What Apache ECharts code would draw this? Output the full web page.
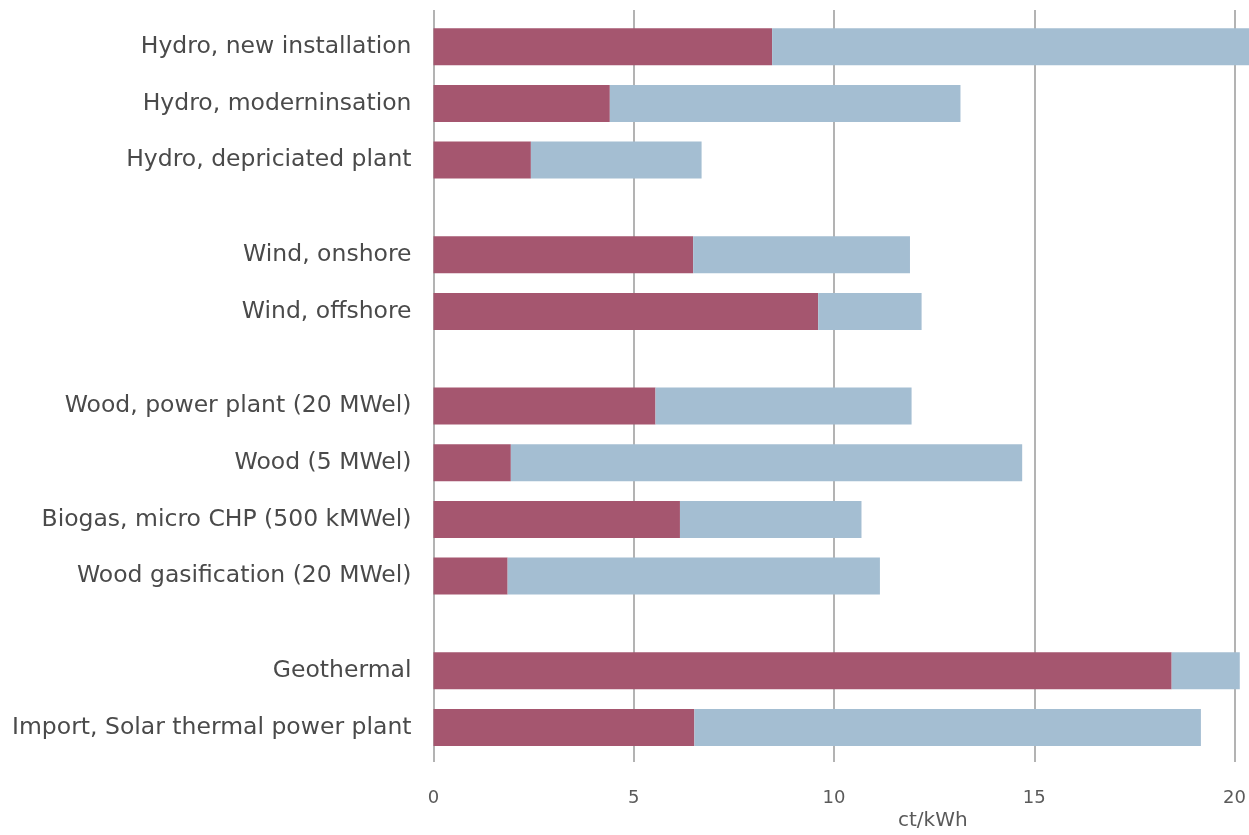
<!DOCTYPE html>
<html>
<head>
<meta charset="utf-8">
<script src="https://cdn.jsdelivr.net/npm/echarts@6/dist/echarts.min.js"></script>
<style>
  html, body { margin: 0; padding: 0; background: #ffffff; }
  #chart { width: 1249px; height: 835px; }
</style>
</head>
<body>
<div id="chart"></div>
<script>
// Power generation cost ranges, ct/kWh
const categories = [
  'Hydro, new installation',
  'Hydro, moderninsation',
  'Hydro, depriciated plant',
  'Wind, onshore',
  'Wind, offshore',
  'Wood, power plant (20 MWel)',
  'Wood (5 MWel)',
  'Biogas, micro CHP (500 kMWel)',
  'Wood gasification (20 MWel)',
  'Geothermal',
  'Import, Solar thermal power plant'
];
// rows per technology block (hydro, wind, biomass, other)
const groupSizes = [3, 2, 4, 2];
// lower end of the cost range
const lowerCost = [8.45, 4.40, 2.43, 6.48, 9.60, 5.54, 1.93, 6.15, 1.85, 18.42, 6.51];
// width of the range above the lower end
const rangeSpan = [12.55, 8.75, 4.26, 5.41, 2.58, 6.39, 12.76, 4.53, 9.29, 1.70, 12.64];
// visible value range; the plot runs to the right edge of the page
const axisMax = 20.35;
const tickStep = 5;
const unitLabel = 'ct/kWh';

const RED = '#a5566f';
const BLUE = '#a4bed2';
const FONT = 'DejaVu Sans';

// layout
const plotLeft = 433.5;
const firstTop = 18.35;
const rowPitch = 56.7;
const blockGap = 37.9;

const grids = [{ left: plotLeft, right: 0, top: 10, height: 752 }];
const xAxes = [{
  gridIndex: 0, type: 'value', min: 0, max: axisMax, interval: tickStep,
  axisLine: { show: false }, axisTick: { show: false },
  axisLabel: { color: '#5a5a5a', fontFamily: FONT, fontSize: 18, margin: 27, showMaxLabel: false },
  splitLine: { show: true, showMaxLine: false, lineStyle: { color: '#9a9a9a', width: 1.5 } }
}];
const yAxes = [{ gridIndex: 0, type: 'category', data: [''], show: false }];
const series = [];

let blockTop = firstTop;
let start = 0;
groupSizes.forEach((n, gi) => {
  const idx = gi + 1;
  grids.push({ left: plotLeft, right: 0, top: blockTop, height: n * rowPitch });
  xAxes.push({ gridIndex: idx, type: 'value', min: 0, max: axisMax, show: false, splitLine: { show: false } });
  yAxes.push({
    gridIndex: idx, type: 'category', inverse: true,
    data: categories.slice(start, start + n),
    axisLine: { show: false }, axisTick: { show: false },
    axisLabel: { color: '#4a4a4a', fontFamily: FONT, fontSize: 23.5, margin: 22 }
  });
  series.push({
    type: 'bar', xAxisIndex: idx, yAxisIndex: idx, stack: 'g' + idx,
    data: lowerCost.slice(start, start + n), barWidth: 37,
    itemStyle: { color: RED }, silent: true
  });
  series.push({
    type: 'bar', xAxisIndex: idx, yAxisIndex: idx, stack: 'g' + idx,
    data: rangeSpan.slice(start, start + n), barWidth: 37,
    itemStyle: { color: BLUE }, silent: true
  });
  blockTop += n * rowPitch + blockGap;
  start += n;
});

const chart = echarts.init(document.getElementById('chart'), null, { renderer: 'canvas' });
chart.setOption({
  animation: false,
  backgroundColor: '#ffffff',
  grid: grids,
  xAxis: xAxes,
  yAxis: yAxes,
  series: series,
  graphic: [{
    type: 'text', left: 898, top: 811,
    style: { text: unitLabel, fill: '#5a5a5a', font: '20px "' + FONT + '"' }
  }]
});
</script>
</body>
</html>
